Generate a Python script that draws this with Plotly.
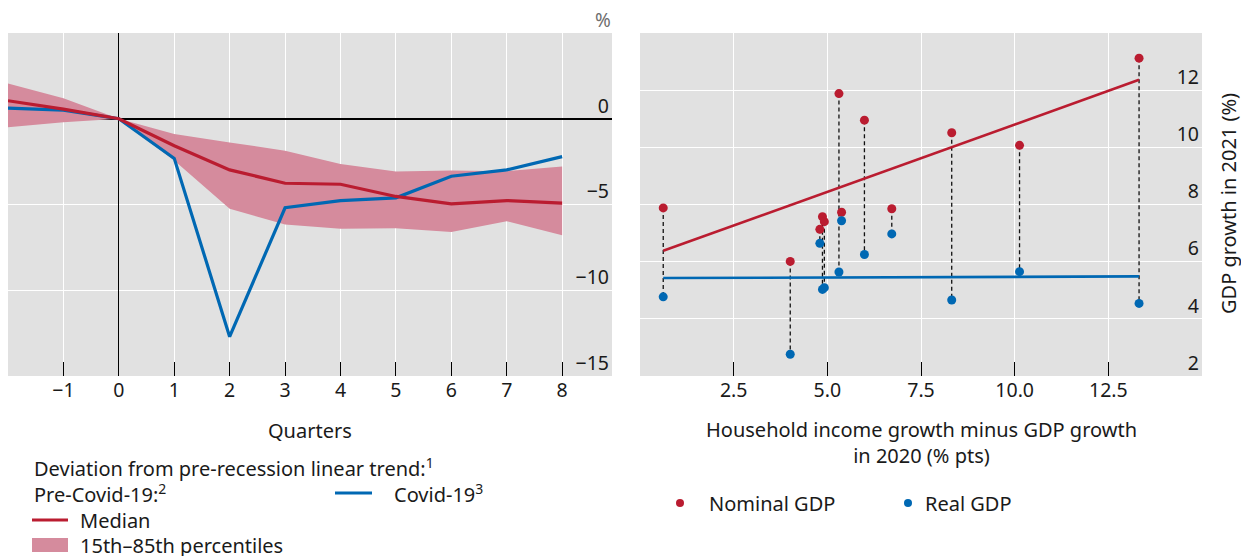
import numpy as np
import plotly.graph_objects as go

# ---------------- data ----------------
quarters = [-2, -1, 0, 1, 2, 3, 4, 5, 6, 7, 8]
median = [1.05, 0.56, 0.0, -1.57, -2.98, -3.76, -3.82, -4.53, -4.96, -4.77, -4.92]
covid = [0.62, 0.50, 0.0, -2.31, -12.71, -5.19, -4.77, -4.61, -3.35, -2.98, -2.21]
pct85 = [2.05, 1.20, 0.0, -0.89, -1.38, -1.86, -2.64, -3.08, -3.02, -3.06, -2.79]
pct15 = [-0.50, -0.21, 0.0, -2.44, -5.25, -6.16, -6.41, -6.38, -6.61, -5.97, -6.80]

left_tickvals = [-1, 0, 1, 2, 3, 4, 5, 6, 7, 8]
left_ticktext = ["−1", "0", "1", "2", "3", "4", "5", "6", "7", "8"]
left_ytickvals = [-15, -10, -5, 0]
left_yticktext = ["−15", "−10", "−5", "0"]

income_gap = [0.62, 4.01, 4.80, 4.87, 4.92, 5.31, 5.38, 5.99, 6.72, 8.32, 10.13, 13.32]
nominal_gdp = [7.88, 6.01, 7.13, 7.57, 7.40, 11.88, 7.73, 10.95, 7.85, 10.51, 10.07, 13.12]
real_gdp = [4.77, 2.76, 6.64, 5.03, 5.09, 5.64, 7.43, 6.25, 6.97, 4.66, 5.65, 4.54]

right_xtickvals = [2.5, 5, 7.5, 10, 12.5, 15]
right_xticktext = ["2.5", "5.0", "7.5", "10.0", "12.5", "15.0"]
right_ytickvals = [2, 4, 6, 8, 10, 12]

# ---------------- style ----------------
RED = "#BA1C30"
BLUE = "#0068B3"
BAND = "#D58B9D"
BG = "#E1E1E1"
TXT = "#1a1a1a"
FONT = "Noto Sans"
OFF = 8                    # page body margin
W, H = 1249 - OFF, 556 - OFF


def px(x):
    return (x - OFF) / W


def py(y):
    return 1 - (y - OFF) / H


fig = go.Figure()

# ---- left panel ----
fig.add_trace(go.Scatter(x=quarters, y=pct85, mode="lines", line=dict(width=0),
                         showlegend=False, hoverinfo="skip", xaxis="x", yaxis="y"))
fig.add_trace(go.Scatter(x=quarters, y=pct15, mode="lines", line=dict(width=0),
                         fill="tonexty", fillcolor=BAND, name="15th–85th percentiles",
                         showlegend=False, xaxis="x", yaxis="y"))
fig.add_trace(go.Scatter(x=quarters, y=covid, mode="lines", line=dict(color=BLUE, width=3.2),
                         name="Covid-19", showlegend=False, xaxis="x", yaxis="y"))
fig.add_trace(go.Scatter(x=quarters, y=median, mode="lines", line=dict(color=RED, width=3.2),
                         name="Median", showlegend=False, xaxis="x", yaxis="y"))

# ---- right panel ----
cx, cy = [], []
for xv, n, r in zip(income_gap, nominal_gdp, real_gdp):
    cx += [xv, xv, None]
    cy += [n, r, None]
fig.add_trace(go.Scatter(x=cx, y=cy, mode="lines",
                         line=dict(color="#111111", width=1.3, dash="4px,3px"),
                         showlegend=False, hoverinfo="skip", xaxis="x2", yaxis="y2"))

xs = np.array(income_gap)
xfit = np.array([xs.min(), xs.max()])
for vals, col in ((nominal_gdp, RED), (real_gdp, BLUE)):
    b, a = np.polyfit(xs, np.array(vals), 1)
    fig.add_trace(go.Scatter(x=xfit, y=a + b * xfit, mode="lines",
                             line=dict(color=col, width=2.6), showlegend=False,
                             hoverinfo="skip", xaxis="x2", yaxis="y2"))

fig.add_trace(go.Scatter(x=income_gap, y=nominal_gdp, mode="markers", name="Nominal GDP",
                         marker=dict(color=RED, size=9), showlegend=False,
                         xaxis="x2", yaxis="y2"))
fig.add_trace(go.Scatter(x=income_gap, y=real_gdp, mode="markers", name="Real GDP",
                         marker=dict(color=BLUE, size=9), showlegend=False,
                         xaxis="x2", yaxis="y2"))

ydom = [py(376), py(33)]
tickfont = dict(family=FONT, size=19.5, color=TXT)
TICK = dict(ticks="inside", ticklen=14, tickwidth=1.3, tickcolor="black")

fig.update_layout(
    width=W, height=H, autosize=False,
    margin=dict(l=0, r=0, t=0, b=0),
    paper_bgcolor="white", plot_bgcolor=BG,
    font=dict(family=FONT, size=20, color=TXT),
    showlegend=False,
    xaxis=dict(domain=[px(8), px(612)], range=[-2, 8.9], tickvals=left_tickvals,
               ticktext=left_ticktext, showgrid=True, gridcolor="white", gridwidth=1.3,
               zeroline=True, zerolinecolor="black", zerolinewidth=1.3,
               minor=dict(tickvals=[-2], showgrid=False, **TICK), **TICK,
               showline=False, tickfont=tickfont, automargin=False, fixedrange=True),
    yaxis=dict(domain=ydom, range=[-15, 5], side="right", tickvals=left_ytickvals,
               ticktext=left_yticktext, ticklabelposition="inside", ticklabelshift=-13,
               showgrid=True, gridcolor="white", gridwidth=1.3,
               zeroline=True, zerolinecolor="black", zerolinewidth=1.5,
               ticks="", showline=False, tickfont=tickfont, automargin=False,
               fixedrange=True),
    xaxis2=dict(domain=[px(640), px(1202)], range=[0, 15], tickvals=right_xtickvals,
                ticktext=right_xticktext, showgrid=True, gridcolor="white", gridwidth=1.3,
                zeroline=False, minor=dict(tickvals=[0], showgrid=False, **TICK), **TICK,
                showline=False, tickfont=tickfont, anchor="y2",
                automargin=False, fixedrange=True),
    yaxis2=dict(domain=ydom, range=[2, 14], side="right", anchor="x2",
                tickvals=right_ytickvals, ticklabelposition="inside", ticklabelshift=-13,
                showgrid=True, gridcolor="white", gridwidth=1.3, zeroline=False,
                ticks="", showline=False, tickfont=tickfont, automargin=False,
                fixedrange=True),
)

ann = []


def text(t, x, y, xanchor="left", size=20, color=TXT, **kw):
    ann.append(dict(text=t, x=px(x), y=py(y), xref="paper", yref="paper",
                    xanchor=xanchor, yanchor="middle", showarrow=False,
                    font=dict(family=FONT, size=size, color=color), **kw))


text("%", 603, 20, xanchor="center", size=19, color="#6e6e6e")
text("Quarters", 310, 430, xanchor="center")
text("Household income growth minus GDP growth<br>in 2020 (% pts)", 921, 443,
     xanchor="center")
text("GDP growth in 2021 (%)", 1228, 204, xanchor="center", textangle=-90)

# left legend
text("Deviation from pre-recession linear trend:<sup>1</sup>", 32, 467)
text("Pre-Covid-19:<sup>2</sup>", 32, 493)
text("Covid-19<sup>3</sup>", 392, 493)
text("Median", 78, 520)
text("15th–85th percentiles", 78, 545)
# right legend
text("Nominal GDP", 707, 503)
text("Real GDP", 923, 503)

fig.update_layout(annotations=ann)

shapes = [
    dict(type="line", xref="paper", yref="paper", x0=px(335), x1=px(372),
         y0=py(493), y1=py(493), line=dict(color=BLUE, width=3.2)),
    dict(type="line", xref="paper", yref="paper", x0=px(32), x1=px(68),
         y0=py(520), y1=py(520), line=dict(color=RED, width=3.2)),
    dict(type="rect", xref="paper", yref="paper", x0=px(32), x1=px(68),
         y0=py(552), y1=py(538), line=dict(width=0), fillcolor=BAND),
    dict(type="circle", xref="paper", yref="paper", xsizemode="pixel",
         ysizemode="pixel", xanchor=px(680), yanchor=py(503), x0=-4, x1=4,
         y0=-4, y1=4, fillcolor=RED, line=dict(width=0)),
    dict(type="circle", xref="paper", yref="paper", xsizemode="pixel",
         ysizemode="pixel", xanchor=px(908), yanchor=py(503), x0=-4, x1=4,
         y0=-4, y1=4, fillcolor=BLUE, line=dict(width=0)),
]
fig.update_layout(shapes=shapes)

fig.write_html("out.html")
